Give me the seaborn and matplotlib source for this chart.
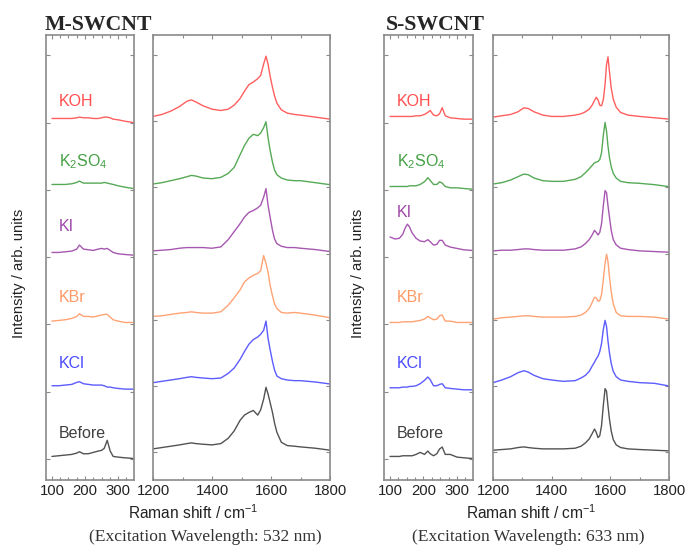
import matplotlib
matplotlib.use("Agg")
import pandas as pd
import matplotlib.pyplot as plt
import seaborn as sns

# samples, bottom to top
samples = ["Before", "KCl", "KBr", "KI", "K2SO4", "KOH"]
sample_labels = ["Before", "KCl", "KBr", "KI", "K$_2$SO$_4$", "KOH"]
offsets = [0, 1, 2, 3, 4, 5]
colors = ["#404040", "#4a4aff", "#ff9966", "#9d45a8", "#44a044", "#ff4d4d"]

# --- M-SWCNT, RBM region (532 nm)
rbm_m_shift = [100, 120, 140, 160, 175, 183, 195, 210, 225, 240, 250, 258, 267, 276, 285, 300, 320, 345]
rbm_m_before = [0.04, 0.05, 0.06, 0.07, 0.09, 0.11, 0.08, 0.08, 0.10, 0.12, 0.13, 0.16, 0.28, 0.12, 0.04, 0.03, 0.02, 0.01]
rbm_m_kcl = [0.09, 0.09, 0.10, 0.11, 0.14, 0.15, 0.12, 0.11, 0.10, 0.10, 0.10, 0.09, 0.07, 0.07, 0.06, 0.05, 0.04, 0.04]
rbm_m_kbr = [0.05, 0.06, 0.07, 0.09, 0.12, 0.16, 0.12, 0.12, 0.11, 0.13, 0.14, 0.15, 0.15, 0.11, 0.07, 0.05, 0.03, 0.03]
rbm_m_ki = [0.07, 0.07, 0.08, 0.09, 0.12, 0.18, 0.12, 0.11, 0.10, 0.12, 0.13, 0.12, 0.13, 0.10, 0.07, 0.05, 0.04, 0.03]
rbm_m_k2so4 = [0.08, 0.08, 0.08, 0.09, 0.11, 0.13, 0.10, 0.10, 0.10, 0.10, 0.10, 0.11, 0.10, 0.09, 0.08, 0.06, 0.04, 0.02]
rbm_m_koh = [0.06, 0.06, 0.06, 0.06, 0.07, 0.08, 0.07, 0.07, 0.06, 0.06, 0.07, 0.08, 0.08, 0.07, 0.05, 0.04, 0.02, 0.00]

# --- M-SWCNT, D/G region
g_m_shift = [1200, 1230, 1260, 1290, 1315, 1330, 1345, 1370, 1400, 1430, 1455, 1475, 1495, 1510, 1525, 1540,
             1555, 1565, 1575, 1583, 1590, 1597, 1605, 1612, 1620, 1635, 1655, 1680, 1700, 1750, 1800]
g_m_before = [0.05, 0.07, 0.09, 0.11, 0.13, 0.14, 0.13, 0.12, 0.11, 0.13, 0.21, 0.32, 0.48, 0.56, 0.60, 0.63,
              0.56, 0.64, 0.80, 0.98, 0.88, 0.75, 0.60, 0.44, 0.30, 0.15, 0.10, 0.09, 0.08, 0.06, 0.03]
g_m_kcl = [0.05, 0.07, 0.09, 0.11, 0.13, 0.14, 0.13, 0.12, 0.11, 0.12, 0.19, 0.27, 0.40, 0.52, 0.63, 0.70,
           0.74, 0.78, 0.84, 0.98, 0.72, 0.55, 0.37, 0.24, 0.15, 0.11, 0.09, 0.08, 0.08, 0.06, 0.03]
g_m_kbr = [0.05, 0.06, 0.08, 0.10, 0.11, 0.12, 0.11, 0.10, 0.10, 0.12, 0.22, 0.33, 0.45, 0.57, 0.63, 0.67,
           0.70, 0.74, 0.97, 0.85, 0.72, 0.52, 0.36, 0.24, 0.17, 0.11, 0.10, 0.11, 0.10, 0.07, 0.03]
g_m_ki = [0.04, 0.05, 0.06, 0.08, 0.09, 0.09, 0.09, 0.09, 0.08, 0.10, 0.21, 0.33, 0.45, 0.55, 0.62, 0.65,
          0.69, 0.73, 0.85, 0.98, 0.73, 0.55, 0.35, 0.22, 0.15, 0.11, 0.09, 0.09, 0.08, 0.06, 0.03]
g_m_k2so4 = [0.05, 0.07, 0.10, 0.13, 0.16, 0.18, 0.17, 0.14, 0.13, 0.15, 0.21, 0.30, 0.49, 0.63, 0.74, 0.80,
             0.78, 0.82, 0.90, 0.99, 0.75, 0.56, 0.38, 0.26, 0.19, 0.14, 0.11, 0.10, 0.10, 0.07, 0.04]
g_m_koh = [0.07, 0.10, 0.15, 0.22, 0.30, 0.32, 0.29, 0.23, 0.18, 0.16, 0.18, 0.24, 0.34, 0.45, 0.55, 0.59,
           0.64, 0.69, 0.86, 0.98, 0.86, 0.68, 0.51, 0.38, 0.27, 0.17, 0.12, 0.10, 0.09, 0.06, 0.03]

# --- S-SWCNT, RBM region (633 nm)
rbm_s_shift = [100, 115, 128, 138, 146, 152, 158, 166, 178, 190, 203, 213, 220, 230, 240, 248, 256, 265, 280, 300, 320, 345]
rbm_s_before = [0.04, 0.04, 0.04, 0.05, 0.05, 0.05, 0.05, 0.05, 0.07, 0.10, 0.07, 0.12, 0.08, 0.05, 0.08, 0.15, 0.18, 0.07, 0.07, 0.03, 0.02, 0.01]
rbm_s_kcl = [0.06, 0.06, 0.06, 0.07, 0.07, 0.07, 0.08, 0.08, 0.09, 0.12, 0.17, 0.22, 0.18, 0.09, 0.09, 0.11, 0.12, 0.06, 0.05, 0.04, 0.03, 0.03]
rbm_s_kbr = [0.03, 0.03, 0.03, 0.04, 0.04, 0.04, 0.04, 0.04, 0.05, 0.06, 0.08, 0.12, 0.10, 0.07, 0.08, 0.13, 0.14, 0.05, 0.05, 0.03, 0.03, 0.03]
rbm_s_ki = [0.30, 0.27, 0.28, 0.34, 0.44, 0.49, 0.45, 0.36, 0.28, 0.24, 0.23, 0.26, 0.23, 0.18, 0.19, 0.25, 0.25, 0.18, 0.15, 0.13, 0.11, 0.10]
rbm_s_k2so4 = [0.05, 0.05, 0.05, 0.05, 0.05, 0.05, 0.06, 0.06, 0.06, 0.08, 0.12, 0.18, 0.14, 0.08, 0.08, 0.12, 0.10, 0.05, 0.03, 0.03, 0.02, 0.01]
rbm_s_koh = [0.09, 0.09, 0.09, 0.09, 0.09, 0.09, 0.09, 0.09, 0.10, 0.10, 0.12, 0.15, 0.18, 0.11, 0.10, 0.13, 0.22, 0.10, 0.07, 0.06, 0.05, 0.05]

# --- S-SWCNT, D/G region
g_s_shift = [1200, 1230, 1260, 1285, 1305, 1320, 1340, 1370, 1400, 1440, 1480, 1500, 1515, 1528, 1538, 1546, 1552,
             1558, 1564, 1570, 1576, 1582, 1587, 1592, 1597, 1603, 1610, 1620, 1635, 1660, 1700, 1750, 1800]
g_s_before = [0.03, 0.04, 0.05, 0.07, 0.08, 0.07, 0.06, 0.05, 0.05, 0.05, 0.06, 0.09, 0.14, 0.20, 0.28, 0.35, 0.30,
              0.22, 0.25, 0.40, 0.70, 0.96, 0.92, 0.70, 0.50, 0.32, 0.19, 0.11, 0.07, 0.05, 0.04, 0.03, 0.02]
g_s_kcl = [0.05, 0.09, 0.14, 0.20, 0.23, 0.21, 0.16, 0.11, 0.09, 0.07, 0.08, 0.12, 0.16, 0.22, 0.30, 0.36, 0.41,
           0.45, 0.52, 0.64, 0.85, 0.99, 0.90, 0.68, 0.50, 0.34, 0.22, 0.14, 0.09, 0.07, 0.05, 0.04, 0.00]
g_s_kbr = [0.01, 0.03, 0.04, 0.05, 0.06, 0.06, 0.05, 0.04, 0.04, 0.04, 0.05, 0.07, 0.11, 0.17, 0.26, 0.34, 0.33,
           0.28, 0.29, 0.38, 0.60, 0.85, 0.99, 0.88, 0.65, 0.42, 0.24, 0.11, 0.06, 0.05, 0.05, 0.04, 0.01]
g_s_ki = [0.04, 0.05, 0.05, 0.06, 0.07, 0.07, 0.06, 0.05, 0.05, 0.05, 0.07, 0.10, 0.15, 0.21, 0.28, 0.35, 0.32,
          0.28, 0.32, 0.45, 0.72, 0.95, 0.92, 0.72, 0.55, 0.35, 0.21, 0.13, 0.08, 0.06, 0.04, 0.03, 0.02]
g_s_k2so4 = [0.05, 0.07, 0.11, 0.16, 0.20, 0.19, 0.14, 0.10, 0.09, 0.09, 0.12, 0.16, 0.22, 0.28, 0.33, 0.37, 0.38,
             0.39, 0.42, 0.52, 0.78, 0.98, 0.85, 0.62, 0.45, 0.31, 0.21, 0.14, 0.09, 0.07, 0.06, 0.04, 0.01]
g_s_koh = [0.06, 0.08, 0.10, 0.14, 0.20, 0.19, 0.14, 0.09, 0.07, 0.07, 0.09, 0.11, 0.14, 0.18, 0.24, 0.31, 0.36,
           0.32, 0.24, 0.23, 0.32, 0.55, 0.85, 0.97, 0.75, 0.50, 0.33, 0.21, 0.13, 0.09, 0.07, 0.05, 0.03]


def build_frame(shift, curves):
    rows = []
    for name, off, vals in zip(samples, offsets, curves):
        for x, y in zip(shift, vals):
            rows.append({"shift": x, "intensity": y + off, "sample": name})
    return pd.DataFrame(rows)


panels = [
    build_frame(rbm_m_shift, [rbm_m_before, rbm_m_kcl, rbm_m_kbr, rbm_m_ki, rbm_m_k2so4, rbm_m_koh]),
    build_frame(g_m_shift, [g_m_before, g_m_kcl, g_m_kbr, g_m_ki, g_m_k2so4, g_m_koh]),
    build_frame(rbm_s_shift, [rbm_s_before, rbm_s_kcl, rbm_s_kbr, rbm_s_ki, rbm_s_k2so4, rbm_s_koh]),
    build_frame(g_s_shift, [g_s_before, g_s_kcl, g_s_kbr, g_s_ki, g_s_k2so4, g_s_koh]),
]

sns.set_theme(style="ticks")
plt.rcParams["font.family"] = ["Liberation Sans", "DejaVu Sans"]
plt.rcParams["mathtext.default"] = "regular"

W, H = 689, 548
fig = plt.figure(figsize=(W / 100, H / 100), dpi=100)

# axes boxes in pixels (left, right)
boxes = [(46, 134), (153, 330), (384, 473), (493, 669)]
top_px, bot_px = 35, 480
spine_col = "#8a8a8a"
text_col = "#222222"

axes = []
for i, (l, r) in enumerate(boxes):
    ax = fig.add_axes([l / W, 1 - bot_px / H, (r - l) / W, (bot_px - top_px) / H])
    sns.lineplot(data=panels[i], x="shift", y="intensity", hue="sample",
                 hue_order=samples, palette=colors, estimator=None, sort=False,
                 linewidth=1.0, alpha=0.9, legend=False, ax=ax)
    is_rbm = i % 2 == 0
    if is_rbm:
        ax.set_xlim(82, 348)
        ax.set_xticks([100, 200, 300])
        ax.set_xticks(range(100, 350, 25), minor=True)
        ax.set_ylim(-0.31, 6.30)
    else:
        ax.set_xlim(1200, 1800)
        ax.set_xticks([1200, 1400, 1600, 1800])
        ax.set_xticks([1300, 1500, 1700], minor=True)
        ax.set_ylim(-0.42, 6.30)
    ax.set_yticks(range(7))
    ax.set_yticklabels([])
    ax.set_xlabel("")
    ax.set_ylabel("")
    ax.tick_params(which="both", direction="in", top=True, right=True,
                   color=spine_col, width=0.8, labelsize=10.7, labelcolor=text_col, pad=3)
    ax.tick_params(which="major", length=3)
    ax.tick_params(which="minor", length=2)
    for sp in ax.spines.values():
        sp.set_color(spine_col)
        sp.set_linewidth(1.2)
    axes.append(ax)

# sample names in the RBM panels
label_dy = [0.31, 0.35, 0.34, 0.39, 0.35, 0.24]
for k, ax in enumerate([axes[0], axes[2]]):
    for name, off, col, dy in zip(sample_labels, offsets, colors, label_dy):
        if k == 1 and name == "KI":
            dy = 0.60
        ax.text(120, off + dy, name, color=col, fontsize=11.5, va="baseline", ha="left")

serif = ["Liberation Serif", "DejaVu Serif"]
fig.text(45 / W, 1 - 30 / H, "M-SWCNT", family=serif, fontweight="bold", fontsize=15.7, va="baseline")
fig.text(386 / W, 1 - 30 / H, "S-SWCNT", family=serif, fontweight="bold", fontsize=15.7, va="baseline")

for xc in (19, 358):
    fig.text(xc / W, 1 - 273 / H, "Intensity / arb. units", rotation=90, fontsize=10.7,
             color=text_col, ha="center", va="center")

fig.text(193 / W, 1 - 519 / H, "Raman shift / cm$^{-1}$", fontsize=11.2, color=text_col,
         ha="center", va="baseline")
fig.text(531 / W, 1 - 519 / H, "Raman shift / cm$^{-1}$", fontsize=11.2, color=text_col,
         ha="center", va="baseline")

fig.text(205 / W, 1 - 541 / H, "(Excitation Wavelength: 532 nm)", family=serif, fontsize=12.6,
         color="#333333", ha="center", va="baseline")
fig.text(528 / W, 1 - 541 / H, "(Excitation Wavelength: 633 nm)", family=serif, fontsize=12.6,
         color="#333333", ha="center", va="baseline")

fig.savefig("out.png", dpi=100)
